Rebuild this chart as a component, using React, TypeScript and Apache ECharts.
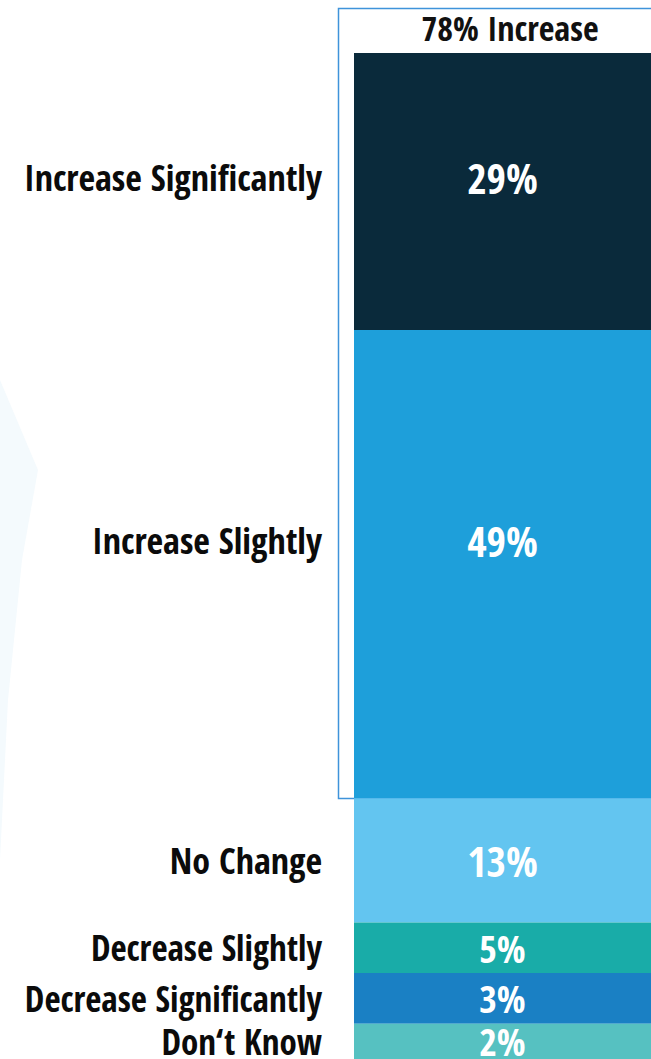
import React, { useEffect, useRef } from "react";
import * as echarts from "echarts";

const categories = [
  "Increase Significantly",
  "Increase Slightly",
  "No Change",
  "Decrease Slightly",
  "Decrease Significantly",
  "Don\u2018t Know",
];
const values = [29, 49, 13, 5, 3, 2];
const colors = ["#0a2a3b", "#1e9fda", "#63c5f0", "#19aca8", "#1a80c4", "#56c1c1"];
const increaseIdx = [0, 1];

// style: smallest share drawn, so tiny segments stay readable
const MIN_DRAWN = 5.3;
const AXIS_MAX = 105.3;
const labelPos = ["45%", "45%", "50%", "50%", "50%", "50%"];
const valueFont = [42, 42, 42, 38, 38, 38];
const nameFont = [36, 36, 36, 35, 35, 35];
const FONT = "'Open Sans Condensed', 'Roboto Condensed', 'Liberation Sans Narrow', sans-serif";

export default function App() {
  const ref = useRef<HTMLDivElement>(null);
  useEffect(() => {
    const chart = echarts.init(ref.current!, null, { renderer: "svg" });
    const drawn = values.map((v) => Math.max(v, MIN_DRAWN));
    const increaseTotal = increaseIdx.reduce((s, i) => s + values[i], 0);

    const valueSeries = categories.map((name, i) => ({
      type: "bar",
      name,
      stack: "share",
      xAxisIndex: 0,
      yAxisIndex: 0,
      barWidth: "100%",
      data: [drawn[i]],
      itemStyle: { color: colors[i] },
      label: {
        show: true,
        position: ["50%", labelPos[i]],
        align: "center",
        verticalAlign: "middle",
        formatter: () => `${values[i]}%`,
        color: "#ffffff",
        fontFamily: FONT,
        fontWeight: "bold",
        fontSize: valueFont[i],
        lineHeight: valueFont[i],
      },
      z: 3,
    }));

    const nameSeries = categories.map((name, i) => ({
      type: "bar",
      name: name + " label",
      stack: "names",
      xAxisIndex: 1,
      yAxisIndex: 1,
      barWidth: "100%",
      data: [drawn[i]],
      itemStyle: { color: "rgba(0,0,0,0)" },
      label: {
        show: true,
        position: ["100%", labelPos[i]],
        offset: [-8, 0],
        align: "right",
        verticalAlign: "middle",
        formatter: () => name,
        color: "#0b0b0b",
        fontFamily: FONT,
        fontWeight: "bold",
        fontSize: nameFont[i],
        lineHeight: nameFont[i],
      },
      silent: true,
    }));

    chart.setOption({
      animation: false,
      backgroundColor: "#ffffff",
      grid: [
        { left: 354, right: 0, top: 53, bottom: 0 },
        { left: 0, width: 330, top: 53, bottom: 0 },
      ],
      xAxis: [
        { type: "category", gridIndex: 0, data: [""], show: false },
        { type: "category", gridIndex: 1, data: [""], show: false },
      ],
      yAxis: [
        { type: "value", gridIndex: 0, inverse: true, min: 0, max: AXIS_MAX, show: false },
        { type: "value", gridIndex: 1, inverse: true, min: 0, max: AXIS_MAX, show: false },
      ],
      graphic: [
        {
          type: "polygon",
          z: -10,
          shape: { points: [[0, 380], [38, 470], [22, 560], [8, 700], [0, 860]] },
          style: { fill: "#f4fafd" },
        },
        {
          type: "rect",
          z: 0,
          shape: { x: 338.5, y: 8.5, width: 400, height: 790 },
          style: { fill: "none", stroke: "#3f93da", lineWidth: 1.5 },
        },
        {
          type: "text",
          x: 510,
          y: 28,
          style: {
            text: `${increaseTotal}% Increase`,
            fontFamily: FONT,
            fontWeight: "bold",
            fontSize: 34,
            fill: "#111111",
            align: "center",
            verticalAlign: "middle",
          },
        },
      ],
      series: [...valueSeries, ...nameSeries],
    });
    return () => chart.dispose();
  }, []);
  return (
    <div
      ref={ref}
      style={{ position: "fixed", left: 0, top: 0, width: 651, height: 1059 }}
    />
  );
}
